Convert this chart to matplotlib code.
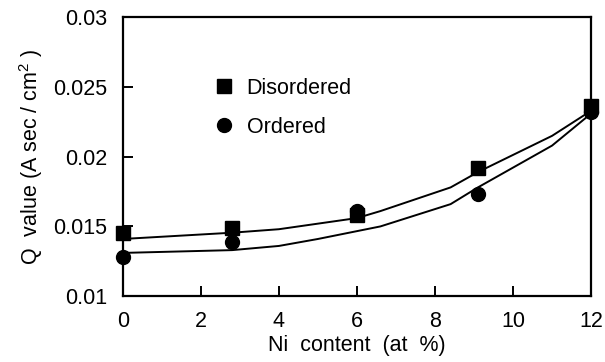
import matplotlib
matplotlib.use("Agg")
import matplotlib.pyplot as plt
import numpy as np

plt.rcParams['font.family'] = ['Liberation Sans', 'DejaVu Sans']
plt.rcParams['mathtext.fontset'] = 'custom'
plt.rcParams['mathtext.rm'] = 'Liberation Sans'

# measured Q values
ni_dis = [0, 2.8, 6.0, 9.1, 12.0]
q_dis = [0.0145, 0.0149, 0.0158, 0.0192, 0.02365]
ni_ord = [0, 2.8, 6.0, 9.1, 12.0]
q_ord = [0.0128, 0.0139, 0.0161, 0.0173, 0.0232]

# hand-drawn trend lines
fit_dis_x = [0, 2.8, 4.0, 6.0, 6.6, 8.4, 9.1, 11.0, 12.0]
fit_dis_y = [0.0141, 0.01455, 0.0148, 0.0156, 0.0161, 0.0178, 0.0189, 0.0215, 0.0233]
fit_ord_x = [0, 2.8, 4.0, 5.0, 6.6, 8.4, 9.1, 11.0, 12.0]
fit_ord_y = [0.0131, 0.0133, 0.0136, 0.0141, 0.0150, 0.0166, 0.0178, 0.0208, 0.0231]

xticks = [0, 2, 4, 6, 8, 10, 12]
yticks = [0.01, 0.015, 0.02, 0.025, 0.03]
ytick_labels = ['0.01', '0.015', '0.02', '0.025', '0.03']

fs = 15.5

fig = plt.figure(figsize=(6.05, 3.62), dpi=100)
ax = fig.add_axes([0.203, 0.182, 0.774, 0.770])

ax.plot(fit_dis_x, fit_dis_y, color='black', lw=1.4)
ax.plot(fit_ord_x, fit_ord_y, color='black', lw=1.4)
ax.plot(ni_dis, q_dis, 's', color='black', ms=10, clip_on=False, label='Disordered')
ax.plot(ni_ord, q_ord, 'o', color='black', ms=10, clip_on=False, label='Ordered')

ax.set_xlim(0, 12)
ax.set_ylim(0.01, 0.03)
ax.set_xticks(xticks)
ax.set_yticks(yticks)
ax.set_yticklabels(ytick_labels)
ax.tick_params(direction='in', length=7, width=1.4, labelsize=fs, pad=11)
for s in ax.spines.values():
    s.set_linewidth(1.6)

ax.set_xlabel('Ni  content  (at  %)', fontsize=fs, labelpad=2)
ax.set_ylabel('Q  value (A sec / cm$^2$ )', fontsize=fs, labelpad=6)

ax.legend(loc='upper left', bbox_to_anchor=(0.175, 0.815), frameon=False,
          fontsize=fs, handlelength=1.0, handletextpad=0.55, labelspacing=0.85,
          borderaxespad=0)

fig.savefig('out.png', dpi=100)
